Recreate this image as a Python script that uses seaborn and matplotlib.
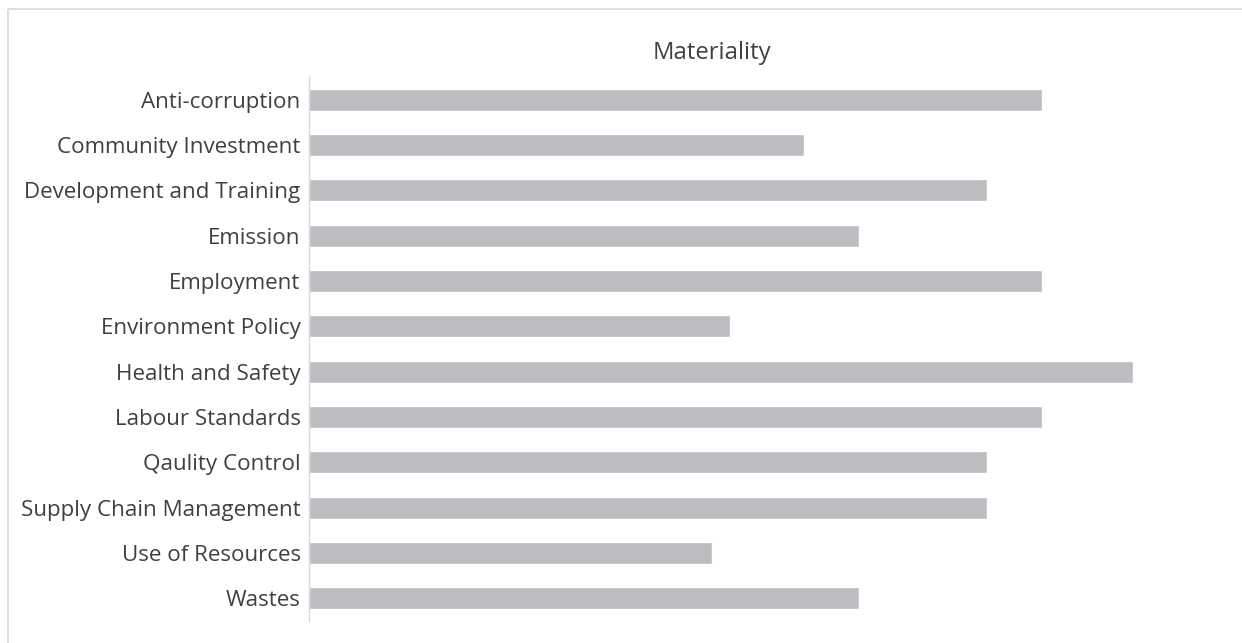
import numpy as np
import matplotlib
matplotlib.use('Agg')
import matplotlib.pyplot as plt
import seaborn as sns
import pandas as pd
from matplotlib.lines import Line2D

# 数据
categories = ['Anti-corruption', 'Community Investment', 'Development and Training',
              'Emission', 'Employment', 'Environment Policy', 'Health and Safety',
              'Labour Standards', 'Qaulity Control', 'Supply Chain Management',
              'Use of Resources', 'Wastes']
values = [40, 27, 37, 30, 40, 23, 45, 40, 37, 37, 22, 30]
title = 'Materiality'

df = pd.DataFrame({'topic': categories, 'score': values})

sns.set_theme(style='white')
plt.rcParams['font.family'] = ['Open Sans', 'DejaVu Sans']
text_color = '#404040'

W, H = 1242, 643
fig = plt.figure(figsize=(W / 100, H / 100), dpi=100, facecolor='white')
ax = fig.add_axes([309 / W, 1 - 621 / H, (1225 - 309) / W, (621 - 77) / H])

sns.barplot(data=df, x='score', y='topic', orient='h', color='#BCBDC1',
            saturation=1, width=0.48, ax=ax)

ax.set_xlim(0, 50)
ax.set_ylim(len(categories) - 0.5, -0.5)
ax.set_xlabel('')
ax.set_ylabel('')
ax.set_xticks([])
for s in ['top', 'right', 'bottom']:
    ax.spines[s].set_visible(False)
ax.spines['left'].set_color('#D9D9D9')
ax.spines['left'].set_linewidth(1)
ax.tick_params(axis='y', length=0, pad=6, labelsize=16.1, labelcolor=text_color)

# 标题
fig.text(712 / W, 1 - 53 / H, title, ha='center', va='center',
         fontsize=17.2, color=text_color)

# 图表外框（只露出上边和左边）
y_top = 1 - 8.5 / H
x_left = 7.5 / W
fig.add_artist(Line2D([x_left, 1.0], [y_top, y_top], transform=fig.transFigure,
                      color='#D9D9D9', linewidth=1.2, solid_capstyle='butt'))
fig.add_artist(Line2D([x_left, x_left], [0.0, y_top], transform=fig.transFigure,
                      color='#D9D9D9', linewidth=1.2, solid_capstyle='butt'))

fig.savefig('out.png', dpi=100)
